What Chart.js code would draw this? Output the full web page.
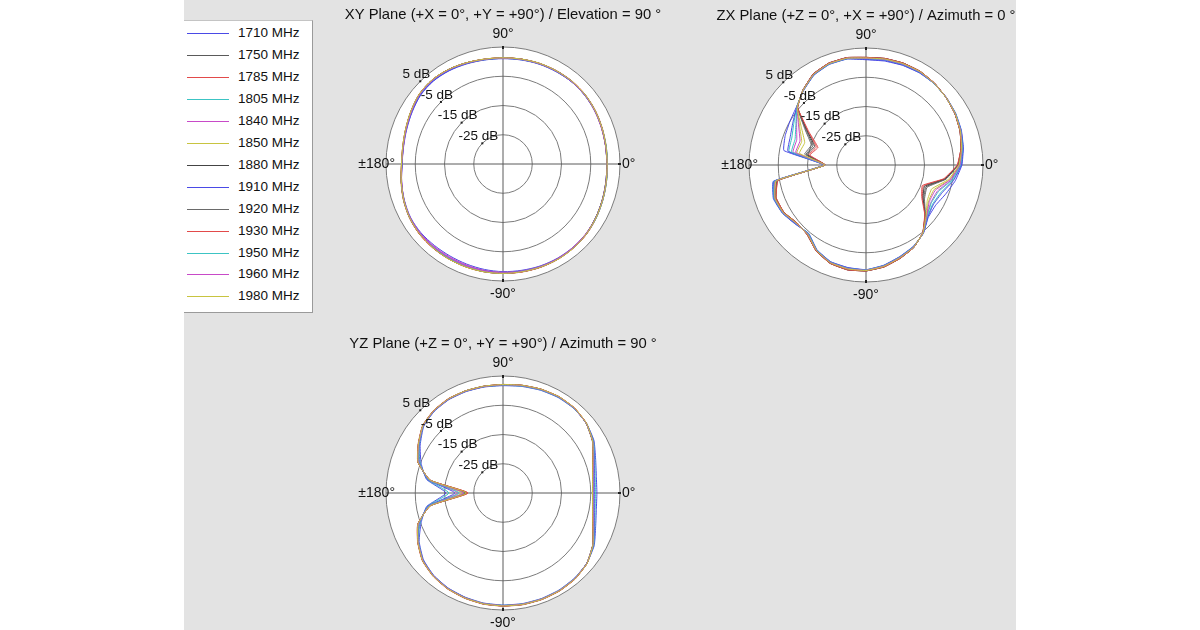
<!DOCTYPE html>
<html>
<head>
<meta charset="utf-8">
<script src="https://cdn.jsdelivr.net/npm/chart.js@4.4.1/dist/chart.umd.min.js"></script>
<style>
html,body{margin:0;padding:0;background:#fff;width:1200px;height:630px;overflow:hidden;font-family:"Liberation Sans",Arial,Helvetica,sans-serif;}
#bg{position:absolute;left:184px;top:0;width:832px;height:630px;background:#e3e3e3;}
#legend{position:absolute;left:184px;top:20px;width:128px;height:291px;background:#fff;border-top:1px solid #c4c4c4;border-right:1px solid #9a9a9a;border-bottom:1px solid #9a9a9a;}
.row{position:absolute;left:0;width:128px;height:14px;}
.sw{position:absolute;left:3px;width:42px;height:1px;top:7px;}
.lt{position:absolute;left:54px;top:0;font-size:13.5px;line-height:14px;color:#111;white-space:nowrap;}
canvas{position:absolute;}
</style>
</head>
<body>
<div id="bg"></div>
<div id="legend"></div>
<script>
// ---------- categories / labels ----------
const ANGLES = [90,80,70,60,50,40,30,20,10,0,-10,-20,-30,-40,-50,-60,-70,-80,-90,-100,-110,-120,-130,-140,-150,-160,-170,180,170,160,150,140,130,120,110,100];
const FREQS = ['1710 MHz','1750 MHz','1785 MHz','1805 MHz','1840 MHz','1850 MHz','1880 MHz','1910 MHz','1920 MHz','1930 MHz','1950 MHz','1960 MHz','1980 MHz'];
const COLORS = ['#4a4ae6','#5a5a5a','#e24a4a','#3cc4c4','#c84ac8','#c8c440','#444444','#4a4ae6','#6a6a6a','#e24a4a','#3cc4c4','#c84ac8','#c8c440'];
const TICK_VALUES = [5,-5,-15,-25];
const TICK_TEXT = ['5 dB','-5 dB','-15 dB','-25 dB'];
const ANGLE_TEXT = ['90°','0°','-90°','±180°'];
const TITLES = ['XY Plane (+X = 0°, +Y = +90°) / Elevation = 90 °','ZX Plane (+Z = 0°, +X = +90°) / Azimuth = 0 °','YZ Plane (+Z = 0°, +Y = +90°) / Azimuth = 90 °'];

// ---------- XY plane (dB) ----------
const xy1710 = [1.0,1.1,1.3,1.4,1.6,1.6,1.4,1.0,0.7,0.6, 0.8,1.2,1.7,2.1,2.2,2.2,2.1,1.9,1.8,1.6, 1.4,1.3,1.4,1.6,1.5,0.9,0.2,-0.5,-0.5,0.0,0.8,1.7,2.0,1.8,1.4,1.1];
const xy1750 = [1.2,1.3,1.5,1.6,1.7,1.6,1.3,0.9,0.6,0.5, 0.7,1.1,1.6,2.1,2.3,2.4,2.4,2.3,2.3,2.3, 2.3,2.3,2.3,2.2,1.8,1.1,0.3,-0.4,-0.3,0.3,1.2,2.2,2.5,2.2,1.7,1.3];
const xy1785 = [1.3,1.4,1.5,1.7,1.8,1.6,1.3,0.9,0.7,0.6, 0.8,1.2,1.8,2.3,2.5,2.6,2.5,2.4,2.4,2.4, 2.4,2.4,2.4,2.3,1.9,1.2,0.3,-0.3,-0.2,0.4,1.3,2.2,2.5,2.3,1.8,1.4];
const xy1805 = [1.1,1.2,1.4,1.5,1.6,1.5,1.2,0.9,0.7,0.7, 0.9,1.3,1.8,2.2,2.4,2.4,2.3,2.2,2.1,2.0, 1.9,1.9,2.0,2.0,1.7,1.0,0.3,-0.4,-0.4,0.2,1.1,2.0,2.3,2.1,1.6,1.2];
const xy1840 = [1.2,1.3,1.4,1.6,1.6,1.5,1.2,0.8,0.6,0.5, 0.7,1.1,1.6,2.0,2.2,2.3,2.2,2.1,2.0,1.9, 1.7,1.6,1.7,1.8,1.6,1.0,0.2,-0.5,-0.4,0.2,1.1,2.1,2.4,2.1,1.6,1.3];
const xy1850 = [1.3,1.4,1.6,1.7,1.8,1.7,1.4,1.0,0.7,0.6, 0.8,1.2,1.7,2.2,2.4,2.5,2.5,2.4,2.4,2.4, 2.4,2.3,2.3,2.2,1.8,1.1,0.3,-0.3,-0.3,0.3,1.2,2.2,2.5,2.3,1.8,1.4];
const xy1880 = [1.2,1.4,1.5,1.7,1.8,1.7,1.4,1.0,0.7,0.6, 0.8,1.2,1.7,2.2,2.4,2.5,2.5,2.4,2.3,2.3, 2.3,2.3,2.3,2.2,1.8,1.1,0.3,-0.4,-0.3,0.3,1.2,2.2,2.6,2.3,1.8,1.3];
const xy1910 = [1.1,1.2,1.4,1.5,1.6,1.5,1.3,0.9,0.6,0.5, 0.7,1.1,1.6,2.1,2.3,2.4,2.3,2.2,2.2,2.1, 2.1,2.0,2.0,2.0,1.7,1.0,0.2,-0.5,-0.4,0.1,0.9,1.8,2.1,1.9,1.5,1.2];
const xy1920 = [1.3,1.4,1.6,1.7,1.8,1.7,1.4,1.0,0.6,0.5, 0.7,1.1,1.6,2.1,2.4,2.5,2.5,2.4,2.4,2.4, 2.3,2.3,2.3,2.2,1.8,1.1,0.3,-0.3,-0.3,0.3,1.3,2.3,2.6,2.3,1.8,1.4];
const xy1930 = [1.3,1.4,1.6,1.8,1.9,1.8,1.5,1.1,0.8,0.7, 0.9,1.3,1.8,2.3,2.5,2.6,2.6,2.5,2.4,2.4, 2.4,2.4,2.4,2.3,1.9,1.2,0.4,-0.3,-0.2,0.4,1.3,2.3,2.6,2.3,1.8,1.4];
const xy1950 = [1.2,1.3,1.5,1.7,1.8,1.7,1.4,1.0,0.8,0.7, 0.9,1.3,1.8,2.2,2.4,2.5,2.4,2.3,2.3,2.3, 2.2,2.2,2.2,2.1,1.8,1.1,0.3,-0.4,-0.3,0.3,1.2,2.1,2.4,2.2,1.7,1.3];
const xy1960 = [1.2,1.3,1.5,1.6,1.7,1.6,1.3,0.9,0.6,0.6, 0.8,1.2,1.7,2.1,2.3,2.4,2.4,2.3,2.2,2.1, 2.0,1.9,1.9,2.0,1.7,1.0,0.2,-0.4,-0.4,0.2,1.1,2.1,2.4,2.2,1.7,1.3];
const xy1980 = [1.3,1.4,1.6,1.7,1.8,1.7,1.4,1.0,0.7,0.6, 0.8,1.2,1.7,2.2,2.5,2.6,2.5,2.4,2.4,2.4, 2.4,2.4,2.3,2.2,1.8,1.1,0.3,-0.3,-0.2,0.4,1.3,2.3,2.6,2.3,1.8,1.4];

// ---------- ZX plane (dB) ----------
const zx1710 = [1.0,1.1,1.3,1.4,1.3,0.9,0.4,-0.3,-1.2, -2.2,-4.0,-6.0,-7.5,-7.2, -4.5,-2.8,-1.6,-0.2,0.8,0.6,0.2,-1.5,-4.5,-3.5,-2.0, -1.3,-2.8, -20.5, -6.5,-5.6,-5.0, -4.0,-1.8,0.5,1.6,1.8];
const zx1750 = [1.7,1.9,2.0,1.9,1.4,0.8,0.1,-0.8,-1.9, -3.6,-7.4,-13.2,-12.2,-8.6, -4.7,-2.4,-1.1,0.3,1.2,1.3,0.7,-1.1,-3.9,-4.1,-2.5, -2.2,-4.2, -21.0, -14.2,-15.7,-11.4, -4.4,-1.5,0.9,2.0,2.2];
const zx1785 = [1.8,2.0,2.1,2.0,1.5,0.8,0.1,-0.8,-2.0, -3.7,-7.8,-14.1,-12.7,-8.7, -4.8,-2.4,-1.0,0.4,1.2,1.4,0.8,-1.0,-3.8,-4.2,-2.6, -2.3,-4.4, -21.0, -15.1,-16.9,-12.1, -4.5,-1.5,1.0,2.1,2.3];
const zx1805 = [1.3,1.5,1.6,1.6,1.3,0.8,0.3,-0.5,-1.4, -2.5,-4.8,-7.7,-8.6,-7.5, -4.6,-2.7,-1.5,-0.1,0.9,0.8,0.3,-1.4,-4.4,-3.7,-2.1, -1.5,-3.1, -20.6, -8.3,-8.0,-6.5, -4.1,-1.7,0.6,1.7,1.9];
const zx1840 = [1.4,1.6,1.7,1.7,1.3,0.8,0.2,-0.6,-1.6, -2.8,-5.4,-9.0,-9.4,-7.8, -4.6,-2.6,-1.4,0.0,1.0,0.9,0.4,-1.3,-4.2,-3.8,-2.2, -1.7,-3.4, -20.7, -9.7,-9.8,-7.6, -4.2,-1.6,0.7,1.8,2.0];
const zx1850 = [1.5,1.7,1.8,1.8,1.4,0.8,0.2,-0.6,-1.7, -3.0,-6.0,-10.3,-10.3,-8.0, -4.7,-2.5,-1.3,0.1,1.0,1.0,0.5,-1.2,-4.1,-3.9,-2.3, -1.8,-3.7, -20.8, -11.0,-11.6,-8.8, -4.3,-1.6,0.8,1.9,2.1];
const zx1880 = [1.8,2.0,2.1,2.0,1.5,0.8,0.1,-0.8,-2.0, -3.6,-7.6,-13.7,-12.5,-8.6, -4.8,-2.4,-1.0,0.4,1.2,1.4,0.8,-1.0,-3.8,-4.2,-2.6, -2.2,-4.3, -21.0, -14.6,-16.3,-11.8, -4.5,-1.5,1.0,2.1,2.3];
const zx1910 = [1.1,1.3,1.4,1.5,1.3,0.9,0.3,-0.4,-1.3, -2.4,-4.6,-7.3,-8.3,-7.4, -4.5,-2.7,-1.5,-0.1,0.9,0.7,0.3,-1.4,-4.4,-3.6,-2.1, -1.5,-3.1, -20.6, -7.9,-7.4,-6.1, -4.1,-1.7,0.6,1.7,1.9];
const zx1920 = [1.7,1.9,2.0,1.9,1.4,0.8,0.1,-0.7,-1.9, -3.5,-7.2,-12.8,-11.9,-8.5, -4.7,-2.4,-1.1,0.3,1.1,1.3,0.7,-1.1,-3.9,-4.1,-2.5, -2.1,-4.2, -20.9, -13.7,-15.1,-11.0, -4.4,-1.5,0.9,2.0,2.2];
const zx1930 = [1.8,2.0,2.1,2.0,1.5,0.8,0.1,-0.8,-2.0, -3.8,-8.0,-14.5,-13.0,-8.8, -4.8,-2.4,-1.0,0.4,1.2,1.4,0.8,-1.0,-3.8,-4.2,-2.6, -2.3,-4.5, -21.0, -15.5,-17.5,-12.5, -4.5,-1.5,1.0,2.1,2.3];
const zx1950 = [1.4,1.6,1.7,1.7,1.3,0.8,0.3,-0.5,-1.5, -2.7,-5.2,-8.6,-9.2,-7.7, -4.6,-2.6,-1.4,0.0,0.9,0.9,0.4,-1.3,-4.3,-3.8,-2.2, -1.6,-3.3, -20.7, -9.2,-9.2,-7.3, -4.2,-1.6,0.7,1.8,2.0];
const zx1960 = [1.5,1.7,1.8,1.8,1.4,0.8,0.2,-0.6,-1.7, -2.9,-5.8,-9.8,-10.0,-7.9, -4.7,-2.5,-1.3,0.1,1.0,1.0,0.5,-1.2,-4.1,-3.9,-2.3, -1.8,-3.6, -20.8, -10.6,-11.0,-8.4, -4.3,-1.6,0.8,1.9,2.1];
const zx1980 = [1.6,1.8,1.9,1.9,1.4,0.8,0.2,-0.7,-1.8, -3.2,-6.4,-11.1,-10.8,-8.2, -4.7,-2.5,-1.2,0.2,1.1,1.1,0.6,-1.2,-4.0,-4.0,-2.4, -1.9,-3.8, -20.9, -11.9,-12.7,-9.5, -4.3,-1.6,0.8,1.9,2.1];

// ---------- YZ plane (dB) ----------
const yz1710 = [1.7,2.0,2.4,2.7,2.7,2.2,0.9,-1.3,-2.6, -2.9,-2.6,-1.3,1.0,2.4,3.0,3.3,3.4,3.4,3.3,3.2, 2.9,2.5,1.8,0.5,-1.9,-5.2,-8.5, -15.5, -8.5,-5.2,-2.3,0.4,1.5,1.9,1.9,1.8];
const yz1750 = [2.0,2.3,2.7,3.0,2.9,2.1,0.4,-2.2,-3.8, -4.3,-3.8,-2.2,0.5,2.4,3.2,3.5,3.6,3.6,3.5,3.4, 3.1,2.7,2.0,0.8,-1.5,-4.2,-9.5, -22.0, -9.5,-4.1,-1.7,0.7,1.7,2.1,2.1,2.0];
const yz1785 = [2.1,2.4,2.8,3.1,3.0,2.2,0.4,-2.3,-3.9, -4.4,-3.9,-2.3,0.5,2.5,3.3,3.6,3.7,3.7,3.6,3.5, 3.2,2.8,2.1,0.9,-1.4,-4.0,-9.8, -23.0, -9.8,-4.0,-1.6,0.8,1.8,2.2,2.2,2.1];
const yz1805 = [1.8,2.1,2.5,2.8,2.8,2.2,0.7,-1.6,-3.0, -3.4,-3.0,-1.6,0.8,2.4,3.1,3.4,3.5,3.5,3.4,3.3, 3.0,2.6,1.9,0.7,-1.7,-4.8,-8.8, -16.5, -8.8,-4.8,-2.0,0.5,1.6,2.0,2.0,1.9];
const yz1840 = [1.9,2.2,2.6,2.9,2.8,2.1,0.5,-2.0,-3.5, -4.0,-3.5,-2.0,0.6,2.4,3.2,3.5,3.6,3.6,3.5,3.4, 3.1,2.7,2.0,0.8,-1.6,-4.4,-9.2, -19.5, -9.2,-4.4,-1.8,0.6,1.7,2.1,2.1,2.0];
const yz1850 = [2.0,2.3,2.7,3.0,2.9,2.1,0.4,-2.2,-3.8, -4.3,-3.8,-2.2,0.5,2.4,3.2,3.5,3.6,3.6,3.5,3.4, 3.1,2.7,2.0,0.8,-1.5,-4.2,-9.4, -21.0, -9.4,-4.1,-1.7,0.7,1.7,2.1,2.1,2.0];
const yz1880 = [2.1,2.4,2.8,3.0,2.9,2.1,0.3,-2.3,-3.9, -4.4,-3.9,-2.3,0.4,2.4,3.3,3.6,3.7,3.7,3.6,3.5, 3.2,2.8,2.1,0.9,-1.4,-4.1,-9.7, -22.5, -9.7,-4.1,-1.6,0.8,1.8,2.2,2.2,2.1];
const yz1910 = [1.9,2.2,2.6,2.9,2.8,2.2,0.6,-1.8,-3.3, -3.8,-3.3,-1.8,0.7,2.4,3.2,3.5,3.6,3.6,3.5,3.4, 3.0,2.6,1.9,0.7,-1.6,-4.5,-9.0, -18.5, -9.0,-4.5,-1.9,0.6,1.6,2.0,2.0,1.9];
const yz1920 = [2.0,2.3,2.7,3.0,2.9,2.1,0.4,-2.2,-3.8, -4.3,-3.8,-2.2,0.5,2.5,3.3,3.6,3.7,3.7,3.6,3.5, 3.2,2.8,2.1,0.9,-1.4,-4.1,-9.6, -22.5, -9.6,-4.1,-1.6,0.8,1.8,2.2,2.2,2.0];
const yz1930 = [2.1,2.4,2.8,3.1,3.0,2.2,0.4,-2.3,-3.9, -4.4,-3.9,-2.3,0.5,2.5,3.4,3.7,3.8,3.8,3.7,3.6, 3.3,2.9,2.2,1.0,-1.3,-4.0,-9.8, -23.0, -9.8,-4.0,-1.5,0.9,1.9,2.3,2.2,2.1];
const yz1950 = [1.9,2.2,2.6,2.9,2.8,2.1,0.5,-2.0,-3.6, -4.1,-3.6,-2.0,0.6,2.4,3.2,3.5,3.6,3.6,3.5,3.4, 3.1,2.7,2.0,0.8,-1.6,-4.3,-9.3, -20.0, -9.3,-4.3,-1.8,0.7,1.7,2.1,2.1,2.0];
const yz1960 = [2.0,2.3,2.7,3.0,2.9,2.1,0.4,-2.1,-3.7, -4.2,-3.7,-2.1,0.5,2.4,3.2,3.5,3.6,3.6,3.5,3.4, 3.1,2.7,2.0,0.8,-1.5,-4.2,-9.5, -21.5, -9.5,-4.2,-1.7,0.7,1.7,2.1,2.1,2.0];
const yz1980 = [2.1,2.4,2.8,3.1,3.0,2.2,0.4,-2.3,-3.9, -4.4,-3.9,-2.3,0.5,2.5,3.3,3.6,3.7,3.7,3.6,3.5, 3.2,2.8,2.1,0.9,-1.4,-4.1,-9.7, -22.5, -9.7,-4.1,-1.6,0.8,1.8,2.2,2.2,2.1];

const XY_SERIES = [xy1710,xy1750,xy1785,xy1805,xy1840,xy1850,xy1880,xy1910,xy1920,xy1930,xy1950,xy1960,xy1980];
const ZX_SERIES = [zx1710,zx1750,zx1785,zx1805,zx1840,zx1850,zx1880,zx1910,zx1920,zx1930,zx1950,zx1960,zx1980];
const YZ_SERIES = [yz1710,yz1750,yz1785,yz1805,yz1840,yz1850,yz1880,yz1910,yz1920,yz1930,yz1950,yz1960,yz1980];

// ---------- legend (HTML) ----------
const legend = document.getElementById('legend');
FREQS.forEach((f, k) => {
  const row = document.createElement('div');
  row.className = 'row';
  row.style.top = Math.round(5 + 21.95 * k) + 'px';
  row.innerHTML = '<div class="sw" style="background:' + COLORS[k] + '"></div><div class="lt">' + f + '</div>';
  legend.appendChild(row);
});

// ---------- label plugin ----------
const FONT = '"Liberation Sans", Arial, Helvetica, sans-serif';
const polarLabels = {
  id: 'polarLabels',
  afterDraw(chart, args, opts) {
    const s = chart.scales.r;
    const ctx = chart.ctx;
    const cx = s.xCenter, cy = s.yCenter;
    const R = s.getDistanceFromCenterForValue(s.max);
    ctx.save();
    ctx.fillStyle = '#111';
    ctx.textAlign = 'center';
    ctx.textBaseline = 'middle';
    ctx.font = '14.8px ' + FONT;
    ctx.fillText(opts.title, cx, cy - 149);
    ctx.font = '14px ' + FONT;
    ctx.fillText(ANGLE_TEXT[0], cx, cy - R - 13);
    ctx.fillText(ANGLE_TEXT[2], cx, cy + R + 13);
    ctx.textAlign = 'left';
    ctx.fillText(ANGLE_TEXT[1], cx + R + 2, cy);
    ctx.textAlign = 'right';
    ctx.fillText(ANGLE_TEXT[3], cx - R + 9, cy);
    // small axis ticks
    ctx.fillStyle = '#222';
    ctx.fillRect(cx - 1, cy - R - 1, 2, 3);
    ctx.fillRect(cx - 1, cy + R - 2, 2, 3);
    ctx.fillRect(cx + R - 2, cy - 1, 3, 2);
    // dB labels along 135 deg
    const a = 135 * Math.PI / 180;
    ctx.font = '13.5px ' + FONT;
    ctx.textAlign = 'center';
    TICK_VALUES.forEach((v, i) => {
      const d = s.getDistanceFromCenterForValue(v);
      const px = cx + d * Math.cos(a);
      const py = cy - d * Math.sin(a);
      ctx.fillStyle = '#222';
      ctx.fillRect(px - 1, py - 1, 2, 2);
      ctx.fillStyle = '#111';
      ctx.fillText(TICK_TEXT[i], px - 4, py - 7);
    });
    ctx.restore();
  }
};

function makeChart(cx, cy, title, series, tension) {
  const cv = document.createElement('canvas');
  cv.width = 400; cv.height = 340;
  cv.style.left = (cx - 200) + 'px';
  cv.style.top = (cy - 170) + 'px';
  document.body.appendChild(cv);
  const chart = new Chart(cv.getContext('2d'), {
    type: 'radar',
    data: {
      labels: ANGLES,
      datasets: series.map((vals, k) => ({
        label: FREQS[k],
        data: vals,
        borderColor: COLORS[k],
        backgroundColor: COLORS[k],
        borderWidth: 1,
        pointRadius: 0,
        fill: false,
        tension: tension,
        order: series.length - k
      }))
    },
    options: {
      responsive: false,
      animation: false,
      layout: { padding: { left: 83, right: 83, top: 53, bottom: 53 } },
      plugins: {
        legend: { display: false },
        tooltip: { enabled: false },
        polarLabels: { title: title }
      },
      scales: {
        r: {
          min: -35,
          max: 5,
          startAngle: 0,
          backgroundColor: '#ffffff',
          ticks: { display: false, stepSize: 10 },
          grid: { circular: true, color: '#7c7c7c', lineWidth: 1 },
          angleLines: {
            display: true,
            color: '#5a5a5a',
            lineWidth: (c) => (c.index % 9 === 0 ? 1 : 0)
          },
          pointLabels: { display: false }
        }
      }
    },
    plugins: [polarLabels]
  });
  const s = chart.scales.r;
  cv.style.left = (cx - s.xCenter) + 'px';
  cv.style.top = (cy - s.yCenter) + 'px';
  return chart;
}

makeChart(503, 164, TITLES[0], XY_SERIES, 0.3);
makeChart(866, 165, TITLES[1], ZX_SERIES, 0.1);
makeChart(503, 493, TITLES[2], YZ_SERIES, 0.15);
</script>
</body>
</html>
